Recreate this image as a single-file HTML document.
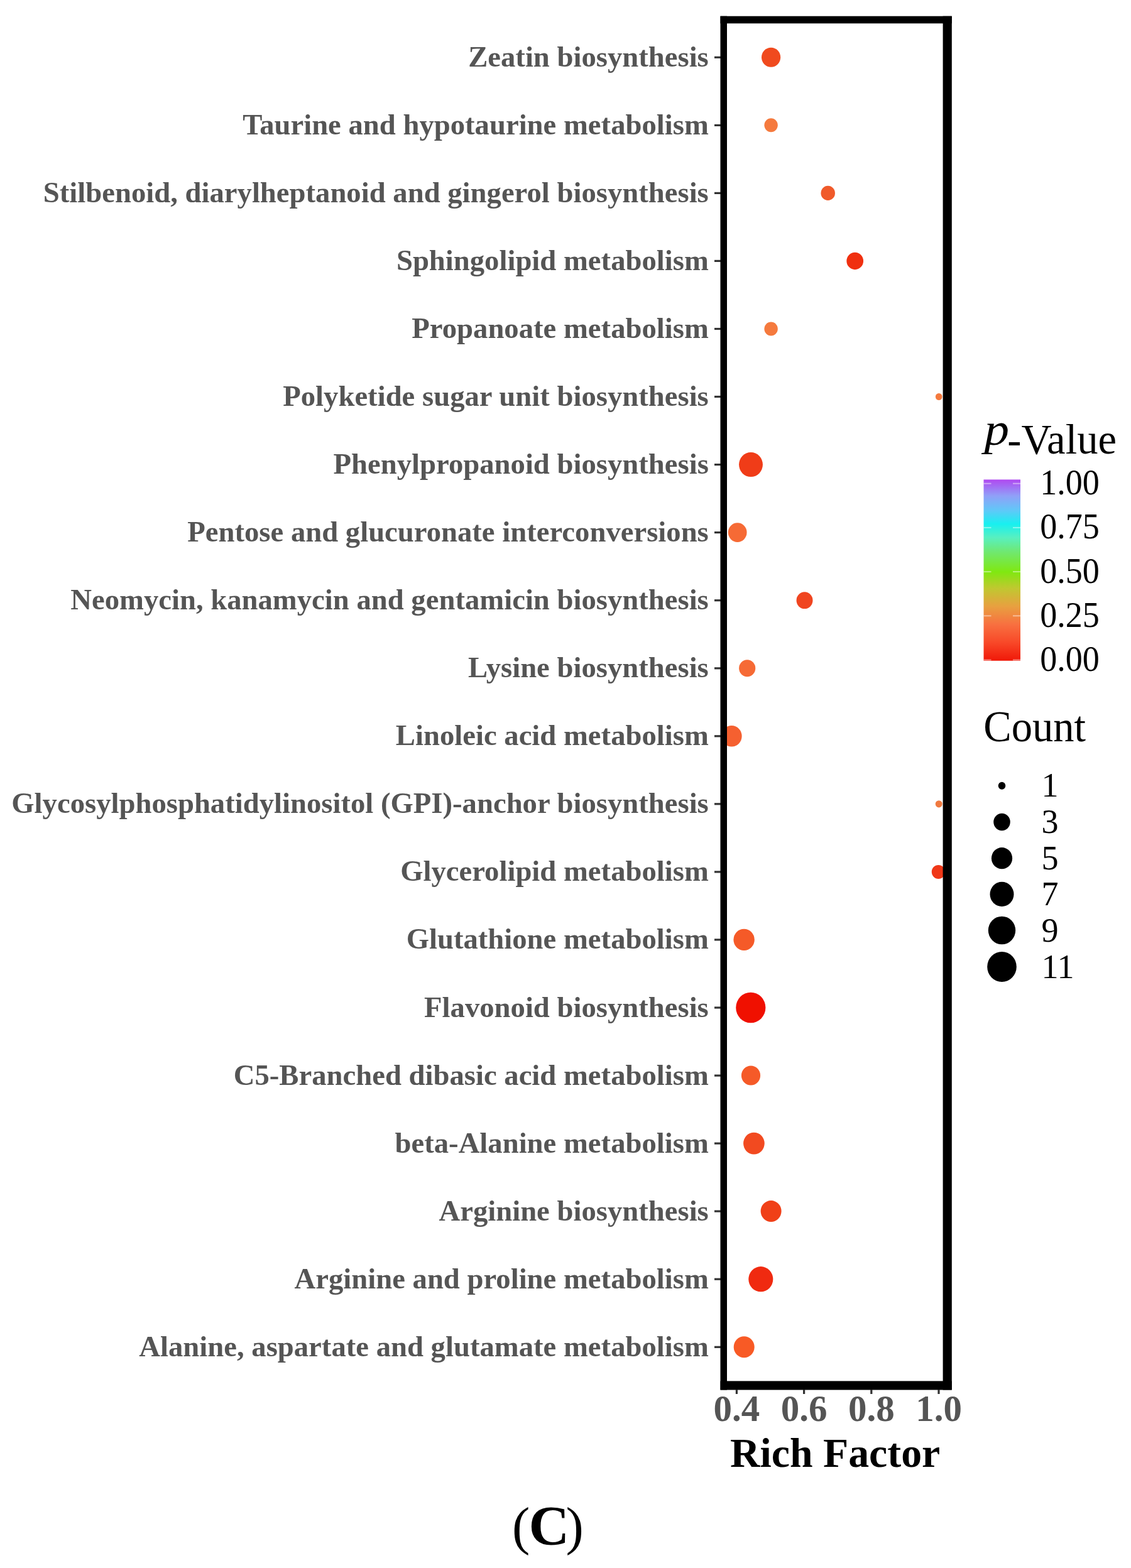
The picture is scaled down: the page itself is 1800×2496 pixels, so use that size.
<!DOCTYPE html>
<html><head><meta charset="utf-8"><title>Rich Factor dot plot</title>
<style>
html,body{margin:0;padding:0;background:#fff;}
svg{display:block;}
text{font-family:"Liberation Serif","Times New Roman",serif;}
.yl{font-weight:bold;font-size:46.7px;fill:#555555;text-anchor:end;}
.xl{font-weight:bold;font-size:59px;fill:#555555;text-anchor:middle;}
.xt{font-weight:bold;font-size:65.8px;fill:#000;}
.lt{font-size:66.6px;fill:#000;}
.ll{font-size:54.1px;fill:#000;}
.pc{font-size:85px;fill:#000;}
</style></head>
<body>
<svg width="1800" height="2496" viewBox="0 0 1800 2496">
<rect width="1800" height="2496" fill="#fff"/>
<defs><clipPath id="pc"><rect x="1146.5" y="25.7" width="368.3" height="2186.8"/></clipPath><linearGradient id="cb" x1="0" y1="1" x2="0" y2="0"><stop offset="0" stop-color="#f01808"/><stop offset="0.1" stop-color="#f84828"/><stop offset="0.2" stop-color="#f87040"/><stop offset="0.3" stop-color="#e8a040"/><stop offset="0.4" stop-color="#c0c830"/><stop offset="0.49" stop-color="#80e810"/><stop offset="0.6" stop-color="#70e870"/><stop offset="0.68" stop-color="#58f0c0"/><stop offset="0.755" stop-color="#18f0f0"/><stop offset="0.83" stop-color="#60c8f8"/><stop offset="0.91" stop-color="#90a0f8"/><stop offset="1" stop-color="#b048f0"/></linearGradient></defs>
<text transform="translate(1127.80 105.80) scale(1.0 1.0)" class="yl">Zeatin biosynthesis</text>
<rect x="1137" y="89.7" width="10" height="3.2" fill="#333"/>
<text transform="translate(1127.80 213.85) scale(1.0 1.0)" class="yl">Taurine and hypotaurine metabolism</text>
<rect x="1137" y="197.8" width="10" height="3.2" fill="#333"/>
<text transform="translate(1127.80 321.90) scale(1.0 1.0)" class="yl">Stilbenoid, diarylheptanoid and gingerol biosynthesis</text>
<rect x="1137" y="305.8" width="10" height="3.2" fill="#333"/>
<text transform="translate(1127.80 429.95) scale(1.0 1.0)" class="yl">Sphingolipid metabolism</text>
<rect x="1137" y="413.8" width="10" height="3.2" fill="#333"/>
<text transform="translate(1127.80 538.00) scale(1.0 1.0)" class="yl">Propanoate metabolism</text>
<rect x="1137" y="521.9" width="10" height="3.2" fill="#333"/>
<text transform="translate(1127.80 646.05) scale(1.0 1.0)" class="yl">Polyketide sugar unit biosynthesis</text>
<rect x="1137" y="629.9" width="10" height="3.2" fill="#333"/>
<text transform="translate(1127.80 754.10) scale(1.0 1.0)" class="yl">Phenylpropanoid biosynthesis</text>
<rect x="1137" y="738.0" width="10" height="3.2" fill="#333"/>
<text transform="translate(1127.80 862.15) scale(1.0 1.0)" class="yl">Pentose and glucuronate interconversions</text>
<rect x="1137" y="846.0" width="10" height="3.2" fill="#333"/>
<text transform="translate(1127.80 970.20) scale(1.0 1.0)" class="yl">Neomycin, kanamycin and gentamicin biosynthesis</text>
<rect x="1137" y="954.1" width="10" height="3.2" fill="#333"/>
<text transform="translate(1127.80 1078.25) scale(1.0 1.0)" class="yl">Lysine biosynthesis</text>
<rect x="1137" y="1062.2" width="10" height="3.2" fill="#333"/>
<text transform="translate(1127.80 1186.30) scale(1.0 1.0)" class="yl">Linoleic acid metabolism</text>
<rect x="1137" y="1170.2" width="10" height="3.2" fill="#333"/>
<text transform="translate(1127.80 1294.35) scale(1.0 1.0)" class="yl">Glycosylphosphatidylinositol (GPI)-anchor biosynthesis</text>
<rect x="1137" y="1278.2" width="10" height="3.2" fill="#333"/>
<text transform="translate(1127.80 1402.40) scale(1.0 1.0)" class="yl">Glycerolipid metabolism</text>
<rect x="1137" y="1386.3" width="10" height="3.2" fill="#333"/>
<text transform="translate(1127.80 1510.45) scale(1.0 1.0)" class="yl">Glutathione metabolism</text>
<rect x="1137" y="1494.3" width="10" height="3.2" fill="#333"/>
<text transform="translate(1127.80 1618.50) scale(1.0 1.0)" class="yl">Flavonoid biosynthesis</text>
<rect x="1137" y="1602.4" width="10" height="3.2" fill="#333"/>
<text transform="translate(1127.80 1726.55) scale(1.0 1.0)" class="yl">C5-Branched dibasic acid metabolism</text>
<rect x="1137" y="1710.5" width="10" height="3.2" fill="#333"/>
<text transform="translate(1127.80 1834.60) scale(1.0 1.0)" class="yl">beta-Alanine metabolism</text>
<rect x="1137" y="1818.5" width="10" height="3.2" fill="#333"/>
<text transform="translate(1127.80 1942.65) scale(1.0 1.0)" class="yl">Arginine biosynthesis</text>
<rect x="1137" y="1926.5" width="10" height="3.2" fill="#333"/>
<text transform="translate(1127.80 2050.70) scale(1.0 1.0)" class="yl">Arginine and proline metabolism</text>
<rect x="1137" y="2034.6" width="10" height="3.2" fill="#333"/>
<text transform="translate(1127.80 2158.75) scale(1.0 1.0)" class="yl">Alanine, aspartate and glutamate metabolism</text>
<rect x="1137" y="2142.7" width="10" height="3.2" fill="#333"/>
<g clip-path="url(#pc)">
<ellipse cx="1227.1" cy="91.3" rx="15.10" ry="15.55" fill="#f04a1e"/>
<ellipse cx="1227.1" cy="199.3" rx="10.70" ry="11.02" fill="#f57a3e"/>
<ellipse cx="1317.7" cy="307.4" rx="11.25" ry="11.59" fill="#f05a2a"/>
<ellipse cx="1360.7" cy="415.4" rx="13.35" ry="13.75" fill="#f03010"/>
<ellipse cx="1227.1" cy="523.5" rx="10.70" ry="11.02" fill="#f57a3e"/>
<ellipse cx="1494.2" cy="631.5" rx="5.35" ry="5.51" fill="#f57a3e"/>
<ellipse cx="1195.0" cy="739.6" rx="18.95" ry="19.52" fill="#f03c18"/>
<ellipse cx="1173.7" cy="847.6" rx="14.85" ry="15.30" fill="#f66a35"/>
<ellipse cx="1280.5" cy="955.7" rx="13.00" ry="13.39" fill="#f04520"/>
<ellipse cx="1189.2" cy="1063.8" rx="13.10" ry="13.49" fill="#f66a35"/>
<ellipse cx="1164.4" cy="1171.8" rx="16.25" ry="16.74" fill="#f56030"/>
<ellipse cx="1494.2" cy="1279.8" rx="5.50" ry="5.67" fill="#f07a40"/>
<ellipse cx="1493.5" cy="1387.9" rx="10.70" ry="11.02" fill="#f03818"/>
<ellipse cx="1184.1" cy="1495.9" rx="16.70" ry="17.20" fill="#f55a28"/>
<ellipse cx="1194.8" cy="1604.0" rx="23.60" ry="24.31" fill="#f01000"/>
<ellipse cx="1195.0" cy="1712.0" rx="15.10" ry="15.55" fill="#f55a28"/>
<ellipse cx="1199.9" cy="1820.1" rx="16.85" ry="17.36" fill="#f24a20"/>
<ellipse cx="1227.1" cy="1928.1" rx="16.50" ry="17.00" fill="#f04018"/>
<ellipse cx="1210.8" cy="2036.2" rx="19.50" ry="20.09" fill="#f02a10"/>
<ellipse cx="1184.2" cy="2144.2" rx="16.50" ry="17.00" fill="#f85a25"/>
</g>
<rect x="1146.5" y="25.7" width="10.5" height="2186.8" fill="#000"/>
<rect x="1146.5" y="25.7" width="368.3" height="11.6" fill="#000"/>
<rect x="1500.6" y="25.7" width="14.2" height="2186.8" fill="#000"/>
<rect x="1146.5" y="2198.4" width="368.3" height="14.1" fill="#000"/>
<rect x="1170.8" y="2212" width="3.2" height="7" fill="#333"/>
<text transform="translate(1172.40 2262.40) scale(1.0 1.02)" class="xl">0.4</text>
<rect x="1278.0" y="2212" width="3.2" height="7" fill="#333"/>
<text transform="translate(1279.60 2262.40) scale(1.0 1.02)" class="xl">0.6</text>
<rect x="1385.2" y="2212" width="3.2" height="7" fill="#333"/>
<text transform="translate(1386.80 2262.40) scale(1.0 1.02)" class="xl">0.8</text>
<rect x="1492.4" y="2212" width="3.2" height="7" fill="#333"/>
<text transform="translate(1494.00 2262.40) scale(1.0 1.02)" class="xl">1.0</text>
<text transform="translate(1161.90 2335.00) scale(1.0 1.0)" class="xt">Rich Factor</text>
<text transform="translate(1566.50 708.00) scale(1.1 1.0)" class="lt" style="font-style:italic;font-size:72px">p</text>
<text transform="translate(1603.20 722.00) scale(1.0 1.0)" class="lt">-Value</text>
<rect x="1565.5" y="763.4" width="58.5" height="288.4" fill="url(#cb)"/>
<rect x="1565.5" y="768.7" width="12" height="2" fill="#fff" opacity="0.45"/>
<rect x="1612" y="768.7" width="12" height="2" fill="#fff" opacity="0.45"/>
<text transform="translate(1655.20 787.20) scale(1.0 1.06)" class="ll">1.00</text>
<rect x="1565.5" y="838.9" width="12" height="2" fill="#fff" opacity="0.45"/>
<rect x="1612" y="838.9" width="12" height="2" fill="#fff" opacity="0.45"/>
<text transform="translate(1655.20 857.40) scale(1.0 1.06)" class="ll">0.75</text>
<rect x="1565.5" y="909.1" width="12" height="2" fill="#fff" opacity="0.45"/>
<rect x="1612" y="909.1" width="12" height="2" fill="#fff" opacity="0.45"/>
<text transform="translate(1655.20 927.60) scale(1.0 1.06)" class="ll">0.50</text>
<rect x="1565.5" y="979.3" width="12" height="2" fill="#fff" opacity="0.45"/>
<rect x="1612" y="979.3" width="12" height="2" fill="#fff" opacity="0.45"/>
<text transform="translate(1655.20 997.80) scale(1.0 1.06)" class="ll">0.25</text>
<rect x="1565.5" y="1049.5" width="12" height="2" fill="#fff" opacity="0.45"/>
<rect x="1612" y="1049.5" width="12" height="2" fill="#fff" opacity="0.45"/>
<text transform="translate(1655.20 1068.00) scale(1.0 1.06)" class="ll">0.00</text>
<text transform="translate(1565.30 1180.20) scale(1.0 1.04)" class="lt">Count</text>
<ellipse cx="1594.5" cy="1250.7" rx="5.8" ry="5.97" fill="#000"/>
<text transform="translate(1657.50 1268.20) scale(1.0 1.03)" class="ll">1</text>
<ellipse cx="1594.5" cy="1308.5" rx="13.25" ry="13.65" fill="#000"/>
<text transform="translate(1657.50 1326.00) scale(1.0 1.03)" class="ll">3</text>
<ellipse cx="1594.5" cy="1366.2" rx="16.6" ry="17.10" fill="#000"/>
<text transform="translate(1657.50 1383.70) scale(1.0 1.03)" class="ll">5</text>
<ellipse cx="1594.5" cy="1423.4" rx="19.0" ry="19.57" fill="#000"/>
<text transform="translate(1657.50 1440.90) scale(1.0 1.03)" class="ll">7</text>
<ellipse cx="1594.5" cy="1481" rx="21.7" ry="22.35" fill="#000"/>
<text transform="translate(1657.50 1498.50) scale(1.0 1.03)" class="ll">9</text>
<ellipse cx="1594.5" cy="1539" rx="23.3" ry="24.00" fill="#000"/>
<text transform="translate(1657.50 1556.50) scale(1.0 1.03)" class="ll">11</text>
<text x="815" y="2458.1" class="pc">(</text>
<text x="841.4" y="2458.1" class="pc" style="font-weight:bold;font-size:89.4px">C</text>
<text x="900.4" y="2458.1" class="pc">)</text>
</svg>
</body></html>
